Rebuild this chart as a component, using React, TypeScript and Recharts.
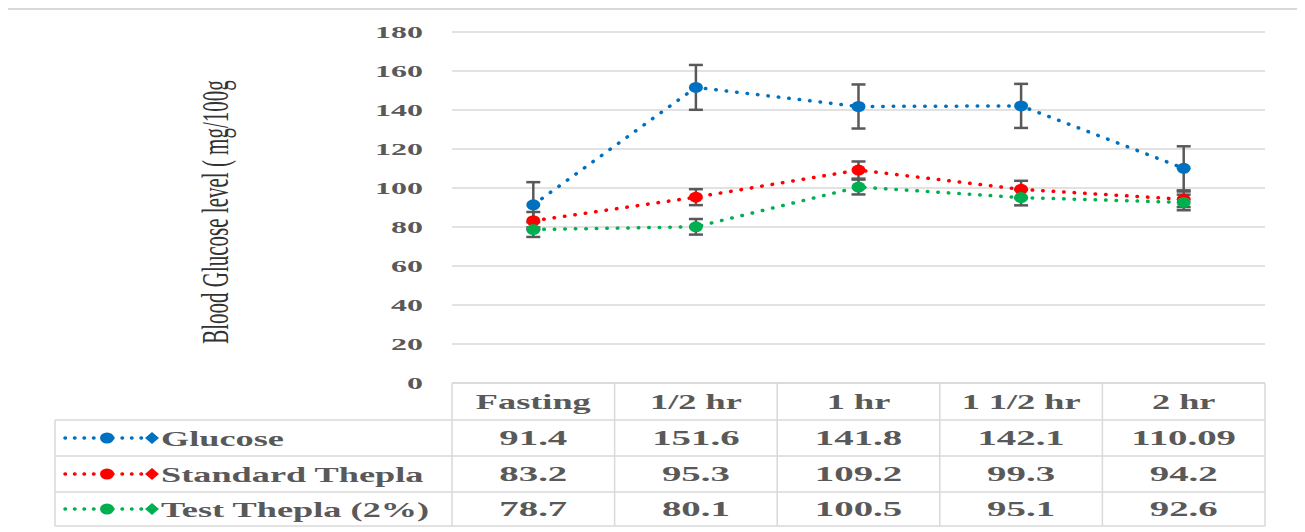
import React from "react";
import { LineChart, Line, XAxis, YAxis, CartesianGrid, ErrorBar } from "recharts";

const categories = ["Fasting", "1/2 hr", "1 hr", "1 1/2 hr", "2 hr"];
const glucose = [91.4, 151.6, 141.8, 142.1, 110.09];
const standardThepla = [83.2, 95.3, 109.2, 99.3, 94.2];
const testThepla = [78.7, 80.1, 100.5, 95.1, 92.6];
const glucoseErr = [11.6, 11.5, 11.3, 11.3, 11.3];
const standardErr = [4.5, 4.1, 4.4, 4.4, 4.0];
const testErr = [3.8, 4.0, 3.8, 4.0, 4.0];
const yTicks = [0, 20, 40, 60, 80, 100, 120, 140, 160, 180];

const series = [
  { key: "glucose", err: "glucoseErr", name: "Glucose", color: "#0070C0", values: glucose },
  { key: "standard", err: "standardErr", name: "Standard Thepla", color: "#FF0000", values: standardThepla },
  { key: "test", err: "testErr", name: "Test Thepla (2%)", color: "#00B050", values: testThepla },
];

const data = categories.map((name, i) => ({
  name,
  glucose: glucose[i],
  glucoseErr: glucoseErr[i],
  standard: standardThepla[i],
  standardErr: standardErr[i],
  test: testThepla[i],
  testErr: testErr[i],
}));

const W = 1297;
const H = 524;
const PLOT_LEFT = 444;
const PLOT_RIGHT = 1257;
const X_AXIS_H = 149;
const COL_W = (PLOT_RIGHT - PLOT_LEFT) / categories.length;
const LEGEND_LEFT = 47;
const ROW_LINES = [37, 73, 109, 143];
const ROW_TEXT = [55, 91, 126];
const BORDER = "#d9d9d9";
const TEXT = "#595959";
const FONT = "'Liberation Serif', 'Times New Roman', serif";

const Wide = ({ x, y, sx, size, anchor, children, fill = TEXT }: any) => (
  <text
    transform={`translate(${x},${y}) scale(${sx},1)`}
    fontSize={size}
    fontFamily={FONT}
    fontWeight="bold"
    textAnchor={anchor}
    dominantBaseline="central"
    fill={fill}
  >
    {children}
  </text>
);

const YTick = (props: any) => {
  const { x, y, payload } = props;
  return (
    <Wide x={x} y={y} sx={2.0} size={16} anchor="end">
      {payload.value}
    </Wide>
  );
};

const XTick = (props: any) => {
  const { x, y, payload, index } = props;
  const left = x - COL_W / 2;
  const right = x + COL_W / 2;
  return (
    <g>
      {index === 0 && (
        <g>
          <line x1={LEGEND_LEFT} y1={y + ROW_LINES[0]} x2={LEGEND_LEFT} y2={y + ROW_LINES[3]} stroke={BORDER} strokeWidth={1.5} />
          {ROW_LINES.map((r) => (
            <line key={r} x1={LEGEND_LEFT} y1={y + r} x2={left} y2={y + r} stroke={BORDER} strokeWidth={1.5} />
          ))}
          {series.map((s, i) => {
            const cy = y + ROW_TEXT[i];
            return (
              <g key={s.key}>
                <line x1={57} y1={cy} x2={144} y2={cy} stroke={s.color} strokeWidth={3.5} strokeDasharray="0.5 9" strokeLinecap="round" />
                <ellipse cx={99} cy={cy} rx={7} ry={5.5} fill={s.color} />
                <polygon points={`${137},${cy} ${144},${cy - 6} ${151},${cy} ${144},${cy + 6}`} fill={s.color} />
                <Wide x={153} y={cy} sx={1.65} size={22} anchor="start">
                  {s.name}
                </Wide>
              </g>
            );
          })}
        </g>
      )}
      <line x1={left} y1={y} x2={left} y2={y + ROW_LINES[3]} stroke={BORDER} strokeWidth={1.5} />
      {index === categories.length - 1 && (
        <line x1={right} y1={y} x2={right} y2={y + ROW_LINES[3]} stroke={BORDER} strokeWidth={1.5} />
      )}
      {ROW_LINES.map((r) => (
        <line key={r} x1={left} y1={y + r} x2={right} y2={y + r} stroke={BORDER} strokeWidth={1.5} />
      ))}
      <Wide x={x} y={y + 18} sx={1.65} size={22} anchor="middle">
        {payload.value}
      </Wide>
      {series.map((s, i) => (
        <Wide key={s.key} x={x} y={y + ROW_TEXT[i]} sx={1.85} size={21} anchor="middle">
          {String(s.values[index])}
        </Wide>
      ))}
    </g>
  );
};

const YTitle = () => (
  <text
    transform={`translate(208,204) rotate(-90) scale(1,1.8)`}
    fontSize={21}
    fontFamily={FONT}
    textAnchor="middle"
    dominantBaseline="central"
    fill="#333333"
  >
    Blood Glucose level ( mg/100g
  </text>
);

export default function App() {
  return (
    <div style={{ position: "relative", width: W, height: H }}>
      <div style={{ position: "absolute", left: -2, top: 0, width: 1295, height: 2, background: BORDER }} />
      <div style={{ position: "absolute", left: 1290, top: 0, width: 3, height: H, background: "#e2e2e2" }} />
      <LineChart width={W} height={H} data={data} margin={{ top: 24, right: W - PLOT_RIGHT, bottom: 0, left: 0 }}>
        <CartesianGrid vertical={false} stroke={BORDER} strokeWidth={1.5} />
        <XAxis
          dataKey="name"
          height={X_AXIS_H}
          interval={0}
          padding={{ left: COL_W / 2, right: COL_W / 2 }}
          tickSize={0}
          tickMargin={0}
          tickLine={false}
          axisLine={{ stroke: BORDER, strokeWidth: 1.5 }}
          tick={<XTick />}
        />
        <YAxis
          width={PLOT_LEFT}
          domain={[0, 180]}
          ticks={yTicks}
          interval={0}
          tickSize={0}
          tickMargin={29}
          tickLine={false}
          axisLine={false}
          tick={<YTick />}
          label={{ content: () => <YTitle /> }}
        />
        {series.map((s) => (
          <Line
            key={s.key}
            dataKey={s.key}
            name={s.name}
            stroke={s.color}
            strokeWidth={3.5}
            strokeDasharray="0.5 10"
            strokeLinecap="round"
            isAnimationActive={false}
            dot={(p: any) => <ellipse key={p.index} cx={p.cx} cy={p.cy} rx={7} ry={5.5} fill={s.color} />}
            activeDot={false}
          >
            <ErrorBar dataKey={s.err} direction="y" width={7} stroke="#595959" strokeWidth={2.5} />
          </Line>
        ))}
      </LineChart>
    </div>
  );
}
